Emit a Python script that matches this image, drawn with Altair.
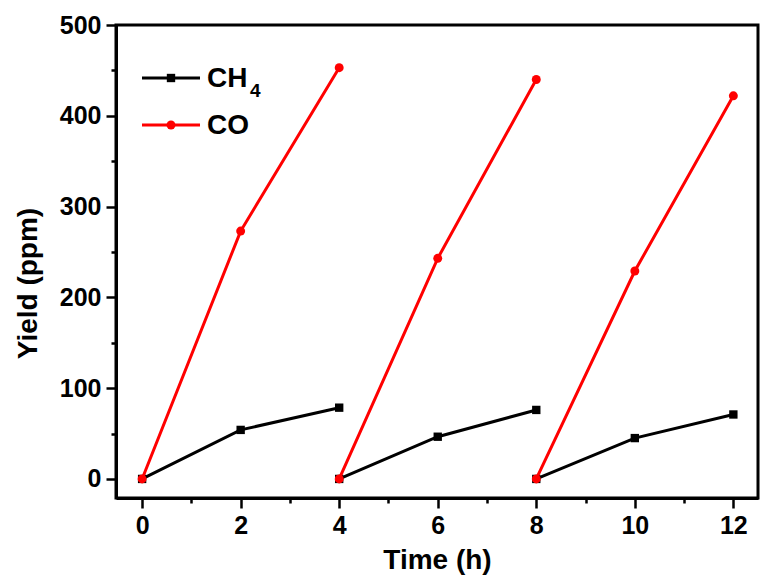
import altair as alt
import pandas as pd

# ---- data ----
time = [0, 2, 4, 4, 6, 8, 8, 10, 12]
cycle = [1, 1, 1, 2, 2, 2, 3, 3, 3]
ch4 = [0, 54, 78.5, 0, 46.5, 76, 0, 45, 71]
co = [0, 273, 453, 0, 243, 440, 0, 229, 422]

x_major = [0, 2, 4, 6, 8, 10, 12]
x_minor = [1, 3, 5, 7, 9, 11]
y_major = [0, 100, 200, 300, 400, 500]
y_minor = [50, 150, 250, 350, 450]

rows = []
for t, c, a, b in zip(time, cycle, ch4, co):
    rows.append({"time": t, "cycle": c, "series": "CH4", "yield": a})
    rows.append({"time": t, "cycle": c, "series": "CO", "yield": b})
df = pd.DataFrame(rows)

FONT = "Liberation Sans"
XD = [-0.53, 12.5]
YD = [-21, 500]

xs = alt.Scale(domain=XD, nice=False, zero=False)
ys = alt.Scale(domain=YD, nice=False, zero=False)

x_enc = alt.X("time:Q", scale=xs, axis=alt.Axis(
    values=x_major, title="Time (h)", orient="bottom", format="d",
    tickSize=10, labelPadding=5, titlePadding=8))
y_enc = alt.Y("yield:Q", scale=ys, axis=alt.Axis(
    values=y_major, title="Yield (ppm)", orient="left", format="d",
    tickSize=10, labelPadding=5, titleX=-88, titleY=258,
    titleBaseline="middle", titleAlign="center", titleAngle=270))

base = alt.Chart(df).encode(x=x_enc, y=y_enc, detail="cycle:N")

ch4_f = base.transform_filter(alt.datum.series == "CH4")
co_f = base.transform_filter(alt.datum.series == "CO")

ch4_line = ch4_f.mark_line(color="black", strokeWidth=3)
ch4_pts = ch4_f.mark_point(shape="square", filled=True, color="black", size=70, opacity=1)
co_line = co_f.mark_line(color="red", strokeWidth=3)
co_pts = co_f.mark_point(shape="circle", filled=True, color="red", size=80, opacity=1)

# legend drawn inside the plot
one = pd.DataFrame({"k": [0]})
leg = alt.Chart(one)
l1 = leg.mark_rule(color="black", strokeWidth=3).encode(
    x=alt.value(26), x2=alt.value(84), y=alt.value(53))
p1 = leg.mark_point(shape="square", filled=True, color="black", size=70, opacity=1).encode(
    x=alt.value(55), y=alt.value(53))
t1 = leg.mark_text(font=FONT, fontWeight="bold", fontSize=28, align="left",
                   baseline="middle", color="black").encode(
    x=alt.value(91), y=alt.value(54), text=alt.value("CH"))
t1s = leg.mark_text(font=FONT, fontWeight="bold", fontSize=19, align="left",
                    baseline="middle", color="black").encode(
    x=alt.value(134), y=alt.value(66), text=alt.value("4"))
l2 = leg.mark_rule(color="red", strokeWidth=3).encode(
    x=alt.value(26), x2=alt.value(84), y=alt.value(100))
p2 = leg.mark_point(shape="circle", filled=True, color="red", size=80, opacity=1).encode(
    x=alt.value(55), y=alt.value(100))
t2 = leg.mark_text(font=FONT, fontWeight="bold", fontSize=28, align="left",
                   baseline="middle", color="black").encode(
    x=alt.value(91), y=alt.value(101), text=alt.value("CO"))

main = alt.layer(ch4_line, ch4_pts, co_line, co_pts, l1, p1, t1, t1s, l2, p2, t2)

# minor ticks layer
minor = alt.Chart(df).mark_point(opacity=0).encode(
    x=alt.X("time:Q", scale=xs, axis=alt.Axis(
        values=x_minor, labels=False, domain=False, title=None,
        orient="bottom", tickSize=5)),
    y=alt.Y("yield:Q", scale=ys, axis=alt.Axis(
        values=y_minor, labels=False, domain=False, title=None,
        orient="left", tickSize=5)),
)

chart = alt.layer(main, minor).resolve_scale(
    x="independent", y="independent"
).properties(
    width=642, height=473,
    background="white",
    autosize=alt.AutoSizeParams(type="none"),
    padding={"left": 108, "top": 17, "right": 9, "bottom": 81},
).configure_view(
    stroke="black", strokeWidth=3
).configure_axis(
    grid=False, domainColor="black", domainWidth=3,
    tickColor="black", tickWidth=2.5,
    labelFont=FONT, labelFontWeight="bold", labelFontSize=25, labelColor="black",
    titleFont=FONT, titleFontWeight="bold", titleFontSize=28, titleColor="black",
)

chart.save("out.html", embed_options={"renderer": "svg", "actions": False})
